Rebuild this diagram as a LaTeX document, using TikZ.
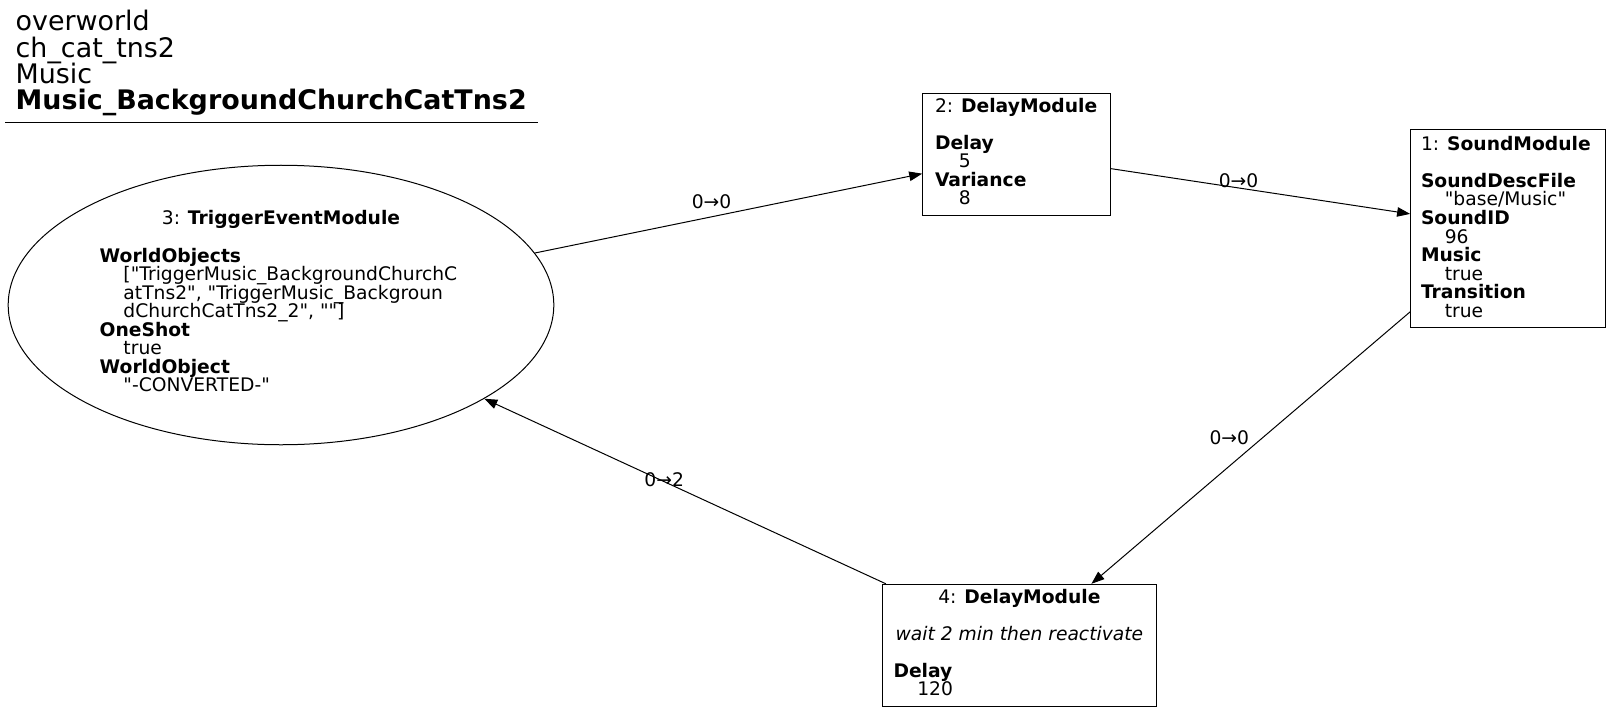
\documentclass[tikz,border=0pt]{standalone}
\usepackage{fontspec}
\setmainfont{DejaVu Sans}[Ligatures=TeXOff]
\usetikzlibrary{shapes.geometric,arrows.meta}
\newlength{\myindent}\setlength{\myindent}{23.8bp}
\newcommand{\nf}{\fontsize{18.7bp}{18.5bp}\selectfont\lineskiplimit=-20bp\relax}
\newcommand{\blankline}{\par\vspace{18.5bp}}
\tikzset{
  box/.style={draw, line width=1bp, rectangle, inner sep=0pt, text height=19bp},
  oval/.style={draw, line width=1bp, ellipse, inner sep=0pt, minimum width=545.6bp, minimum height=279.5bp, text height=14bp, text depth=174bp},
  edge/.style={line width=1bp, -{Triangle[length=13bp,width=9.5bp]}},
  elabel/.style={inner sep=0pt, font=\nf},
}
\begin{document}
\begin{tikzpicture}[x=1bp,y=-1bp]
\useasboundingbox (0,0) rectangle (1611,712);
\fill[white] (0,0) rectangle (1611,712);

% title
\node[anchor=base west, inner sep=0pt] (title) at (15.5,31) {\begin{minipage}[t]{600bp}\fontsize{26.9bp}{26.2bp}\selectfont\lineskiplimit=-20bp
overworld\par
ch\_cat\_tns2\par
Music\par
\textbf{Music\_BackgroundChurchCatTns2}\end{minipage}};
\draw[line width=1bp] (5,122.7) -- (537.5,122.7);

% node 3 (ellipse)
\node[oval] (n3) at (281,305) {\begin{minipage}[t]{362.6bp}\nf\centering
\mbox{3: \textbf{TriggerEventModule}}\blankline
\raggedright
\mbox{\textbf{WorldObjects}}\par
\mbox{\hspace*{\myindent}["TriggerMusic\_BackgroundChurchC}\par
\mbox{\hspace*{\myindent}atTns2", "TriggerMusic\_Backgroun}\par
\mbox{\hspace*{\myindent}dChurchCatTns2\_2", ""]}\par
\mbox{\textbf{OneShot}}\par
\mbox{\hspace*{\myindent}true}\par
\mbox{\textbf{WorldObject}}\par
\mbox{\hspace*{\myindent}"-CONVERTED-"}\end{minipage}};

% node 2
\node[box, minimum width=188bp, text depth=103.4bp] (n2) at (1016.7,154.5) {\begin{minipage}[t]{163.4bp}\nf
\mbox{2: \textbf{DelayModule}}\blankline
\mbox{\textbf{Delay}}\par
\mbox{\hspace*{\myindent}5}\par
\mbox{\textbf{Variance}}\par
\mbox{\hspace*{\myindent}8}\end{minipage}};

% node 1
\node[box, minimum width=195.2bp, text height=21bp, text depth=177.2bp] (n1) at (1508.2,228.6) {\begin{minipage}[t]{174.4bp}\nf
\mbox{1: \textbf{SoundModule}}\blankline
\mbox{\textbf{SoundDescFile}}\par
\mbox{\hspace*{\myindent}"base/Music"}\par
\mbox{\textbf{SoundID}}\par
\mbox{\hspace*{\myindent}96}\par
\mbox{\textbf{Music}}\par
\mbox{\hspace*{\myindent}true}\par
\mbox{\textbf{Transition}}\par
\mbox{\hspace*{\myindent}true}\end{minipage}};

% node 4
\node[box, minimum width=273.3bp, text depth=103.4bp] (n4) at (1019.35,645.5) {\begin{minipage}[t]{251.7bp}\nf\centering
\mbox{4: \textbf{DelayModule}}\blankline
\mbox{\textit{wait 2 min then reactivate}}\blankline
\raggedright
\mbox{\textbf{Delay}}\par
\mbox{\hspace*{\myindent}120}\end{minipage}};

% edges
\draw[edge] (n3) -- (n2);
\draw[edge] (n2) -- (n1);
\draw[edge] (n1) -- (n4);
\draw[edge] (n4) -- (n3);

% edge labels
\node[elabel] (l32) at (711.5,201.4) {0→0};
\node[elabel] (l21) at (1238.5,180.8) {0→0};
\node[elabel] (l14) at (1229.3,437.7) {0→0};
\node[elabel] (l43) at (664.2,479.8) {0→2};
\end{tikzpicture}
\end{document}
